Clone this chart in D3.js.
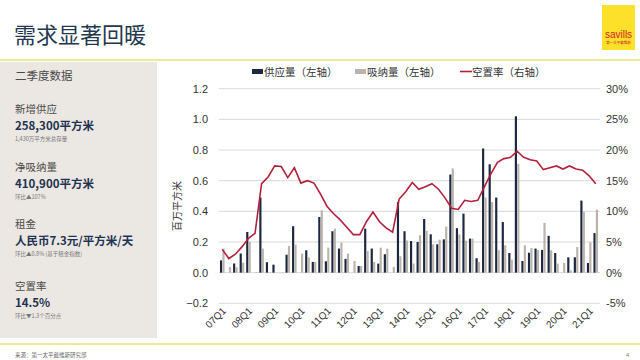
<!DOCTYPE html>
<html><head><meta charset="utf-8">
<script src="https://cdn.jsdelivr.net/npm/d3@7"></script>
<style>
html,body{margin:0;padding:0;background:#fff;}
svg{display:block;font-family:"Liberation Sans","Noto Sans CJK SC",sans-serif;}
</style></head>
<body><svg id="c" width="640" height="360"></svg>
<script>
const quarters = ["07Q1","07Q2","07Q3","07Q4","08Q1","08Q2","08Q3","08Q4","09Q1","09Q2","09Q3","09Q4",
"10Q1","10Q2","10Q3","10Q4","11Q1","11Q2","11Q3","11Q4","12Q1","12Q2","12Q3","12Q4",
"13Q1","13Q2","13Q3","13Q4","14Q1","14Q2","14Q3","14Q4","15Q1","15Q2","15Q3","15Q4",
"16Q1","16Q2","16Q3","16Q4","17Q1","17Q2","17Q3","17Q4","18Q1","18Q2","18Q3","18Q4",
"19Q1","19Q2","19Q3","19Q4","20Q1","20Q2","20Q3","20Q4","21Q1","21Q2"];
const tickLabels = ["07Q1","08Q1","09Q1","10Q1","11Q1","12Q1","13Q1","14Q1","15Q1","16Q1","17Q1","18Q1","19Q1","20Q1","21Q1"];
const supply = [0.08,0.0,0.06,0.125,0.265,0.0,0.49,0.068,0.052,0.0,0.117,0.303,
0.0,0.146,0.07,0.363,0.074,0.27,0.157,0.09,0.0,0.043,0.287,0.157,
0.059,0.12,0.0,0.46,0.27,0.206,0.2,0.35,0.25,0.185,0.217,0.64,
0.29,0.385,0.222,0.094,0.81,0.707,0.49,0.33,0.128,1.02,0.076,0.13,
0.157,0.148,0.24,0.128,0.0,0.1,0.1,0.47,0.063,0.258];
const absorption = [0.157,0.037,0.035,0.065,0.2,0.005,0.157,0.003,0.0,0.003,0.174,0.183,
0.124,0.10,0.07,0.407,0.163,0.287,0.196,0.124,0.076,0.043,0.141,0.07,
0.163,0.157,0.037,0.107,0.21,0.059,0.243,0.273,0.185,0.215,0.30,0.68,
0.25,0.208,0.222,0.07,0.49,0.46,0.146,0.178,0.085,0.71,0.178,0.16,
0.148,0.324,0.146,0.059,0.063,0.015,0.167,0.396,0.198,0.411];
const vacancy = [3.8,2.3,3.0,4.2,5.6,6.4,14.5,15.6,17.4,17.3,15.5,17.1,
14.6,15.0,14.6,12.8,10.8,9.6,8.6,7.4,6.2,6.2,8.3,9.9,
8.3,7.3,6.6,12.0,13.2,14.7,13.6,14.0,14.5,13.6,12.2,10.5,
10.3,11.8,11.6,11.8,14.0,16.1,18.0,18.6,18.8,19.8,18.8,18.4,
18.2,16.8,17.1,17.4,16.9,17.4,16.9,16.7,15.8,14.5];
const leftTicks = [-0.2,0.0,0.2,0.4,0.6,0.8,1.0,1.2];
const rightTicks = [-5,0,5,10,15,20,25,30];
const legendItems = ["供应量（左轴）","吸纳量（左轴）","空置率（右轴）"];
const panelBlocks = [
 {h:"新增供应", b:"258,300平方米", s:"1,430万平方米总存量", y:113},
 {h:"净吸纳量", b:"410,900平方米", s:"环比▲107%", y:171},
 {h:"租金", b:"人民币7.3元/平方米/天", s:"环比▲0.8% (基于租金指数)", y:228},
 {h:"空置率", b:"14.5%", s:"环比▼1.3个百分点", y:290}];

const DARK="#1c2740", LIGHT="#bcb4ac", RED="#b3203b", NAVY="#1f3350";
const svg = d3.select("#c");

// header
svg.append("text").attr("x",14).attr("y",43).attr("font-size",22)
  .attr("font-family","'Noto Sans CJK SC',sans-serif").attr("fill","#23384f").text("需求显著回暖");
svg.append("rect").attr("x",0).attr("y",59).attr("width",640).attr("height",2).attr("fill","#eceb9a");
// logo
svg.append("rect").attr("x",602).attr("y",5).attr("width",33).attr("height",45).attr("fill","#fde02a");
svg.append("text").attr("x",618.5).attr("y",38).attr("text-anchor","middle").attr("font-size",10)
  .attr("fill","#d2232a").attr("font-family","'Liberation Sans',sans-serif").text("savills");
svg.append("text").attr("x",618.5).attr("y",44).attr("text-anchor","middle").attr("font-size",3.5)
  .attr("fill","#d2232a").attr("font-family","'Noto Sans CJK SC',sans-serif").text("第一太平戴维斯");

// left panel
svg.append("rect").attr("x",0).attr("y",62).attr("width",157).attr("height",276).attr("fill","#ebe7e3");
svg.append("rect").attr("x",0).attr("y",343).attr("width",640).attr("height",2).attr("fill","#eceb9a");
const pf = "'Noto Sans CJK SC',sans-serif";
svg.append("text").attr("x",15).attr("y",80).attr("font-family",pf).attr("font-size",11.5)
  .attr("fill","#4a4a4a").text("二季度数据");
panelBlocks.forEach(d=>{
  svg.append("text").attr("x",15).attr("y",d.y).attr("font-family",pf).attr("font-size",10.5)
    .attr("fill","#4a4a4a").text(d.h);
  svg.append("text").attr("x",15).attr("y",d.y+16.5).attr("font-family",pf).attr("font-size",11.5)
    .attr("font-weight","bold").attr("fill",NAVY).text(d.b);
  svg.append("text").attr("x",15).attr("y",d.y+27.5).attr("font-family",pf).attr("font-size",5.5)
    .attr("fill","#777").text(d.s);
});
svg.append("text").attr("x",15).attr("y",357).attr("font-size",5.5).attr("fill","#666")
  .attr("font-family",pf).text("来源：第一太平戴维斯研究部");
svg.append("text").attr("x",626).attr("y",357).attr("font-size",5.5).attr("fill","#777").text("4");

// chart
const x = d3.scaleBand().domain(quarters).range([219,599]).paddingInner(0.3).paddingOuter(0.15);
const sub = d3.scaleBand().domain(["s","a"]).range([0,x.bandwidth()]).paddingInner(0.1);
const yL = d3.scaleLinear().domain([-0.2,1.2]).range([303.3,88.7]);
const yR = d3.scaleLinear().domain([-5,30]).range([303.3,88.7]);

const g = svg.append("g");
g.selectAll("line.grid").data(leftTicks).join("line").attr("class","grid")
  .attr("x1",219).attr("x2",600).attr("y1",d=>yL(d)).attr("y2",d=>yL(d))
  .attr("stroke","#d9d9d9").attr("stroke-width",1);

const axL = d3.axisLeft(yL).tickValues(leftTicks).tickFormat(d3.format(".1f")).tickSize(0).tickPadding(0);
const gL = svg.append("g").attr("transform","translate(208,0)").call(axL);
gL.select(".domain").remove();
gL.selectAll("text").attr("font-size",11).attr("fill","#333").attr("font-family","'Liberation Sans',sans-serif");

const axR = d3.axisRight(yR).tickValues(rightTicks).tickFormat(d=>d+"%").tickSize(0).tickPadding(0);
const gR = svg.append("g").attr("transform","translate(606,0)").call(axR);
gR.select(".domain").remove();
gR.selectAll("text").attr("font-size",11).attr("fill","#333").attr("font-family","'Liberation Sans',sans-serif");

svg.append("text").attr("transform","translate(181,206) rotate(-90)").attr("text-anchor","middle")
  .attr("font-size",10).attr("fill","#333").attr("font-family",pf).text("百万平方米");

// bars
g.selectAll("rect.s").data(quarters).join("rect").attr("class","s")
  .attr("x",q=>x(q)+sub("s")).attr("width",sub.bandwidth())
  .attr("y",(q,i)=>yL(Math.max(0,supply[i]))).attr("height",(q,i)=>Math.abs(yL(supply[i])-yL(0)))
  .attr("fill",DARK);
g.selectAll("rect.a").data(quarters).join("rect").attr("class","a")
  .attr("x",q=>x(q)+sub("a")).attr("width",sub.bandwidth())
  .attr("y",(q,i)=>yL(Math.max(0,absorption[i]))).attr("height",(q,i)=>Math.abs(yL(absorption[i])-yL(0)))
  .attr("fill",LIGHT);

// line
const line = d3.line().x((d,i)=>x(quarters[i])+x.bandwidth()/2).y(d=>yR(d));
g.append("path").datum(vacancy).attr("d",line).attr("fill","none").attr("stroke",RED).attr("stroke-width",1.6);

// x labels
const axB = d3.axisBottom(x).tickValues(tickLabels).tickSize(0).tickPadding(0);
const gB = svg.append("g").attr("transform","translate(0,309)").call(axB);
gB.select(".domain").remove();
gB.selectAll("text").attr("font-size",10).attr("fill","#333").attr("font-family","'Liberation Sans',sans-serif")
  .attr("text-anchor","end").attr("dy","0.35em").attr("transform","translate(2,0) rotate(-45)");

// legend
const lg = svg.append("g").attr("font-family",pf).attr("font-size",10.5).attr("fill","#333");
const lx = [252,355,460];
lg.append("rect").attr("x",lx[0]).attr("y",69).attr("width",11).attr("height",5).attr("fill",DARK);
lg.append("rect").attr("x",lx[1]).attr("y",69).attr("width",11).attr("height",5).attr("fill",LIGHT);
lg.append("line").attr("x1",lx[2]).attr("x2",lx[2]+12).attr("y1",71.5).attr("y2",71.5).attr("stroke",RED).attr("stroke-width",1.6);
lg.selectAll("text").data(legendItems).join("text").attr("x",(d,i)=>lx[i]+12).attr("y",75.5).text(d=>d);
</script></body></html>
